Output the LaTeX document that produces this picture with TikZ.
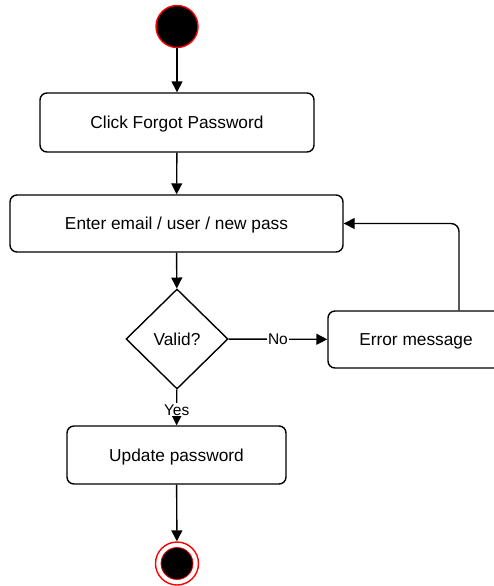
\documentclass[tikz,border=0pt]{standalone}
\usepackage{fontspec}
\setmainfont{Liberation Sans}
\usetikzlibrary{arrows.meta,shapes.geometric}

\tikzset{
  action/.style={draw,rounded corners=7pt,line width=1.4pt,minimum height=58pt,text height=12.4pt,text depth=0pt,font=\fontsize{17.3}{20}\selectfont},
  flow/.style={-{Triangle[length=11pt,width=11pt]},line width=1.4pt},
  guard/.style={fill=white,inner sep=1pt,text height=11pt,text depth=0pt,font=\fontsize{15.5}{18}\selectfont},
}

\begin{document}
\begin{tikzpicture}[x=1pt,y=-1pt]
  \useasboundingbox (0,0) rectangle (494,586);
  \node[draw=red,fill=black,circle,minimum size=42pt,inner sep=0pt,line width=1.4pt] (start) at (177,26.5) {};
  \node[action,minimum width=274pt,minimum height=59pt] (click) at (177,122.5) {Click Forgot Password};
  \node[action,minimum width=333pt,minimum height=57pt] (enter) at (176.5,223.5) {Enter email / user / new pass};
  \node[draw,diamond,line width=1.4pt,minimum width=102pt,minimum height=100pt,inner sep=0pt,text height=12.4pt,text depth=0pt,font=\fontsize{17.3}{20}\selectfont] (valid) at (177,339) {Valid?};
  \node[action,minimum width=176pt,minimum height=57pt] (error) at (416,339.5) {Error message};
  \node[action,minimum width=219pt,minimum height=58pt] (update) at (176.5,455) {Update password};
  \node[draw=red,circle,minimum size=43pt,inner sep=0pt,line width=1.4pt] (end) at (177,563.5) {};
  \node[draw=red,fill=black,circle,minimum size=32pt,inner sep=0pt,line width=0.8pt] (end-dot) at (end.center) {};
  \draw[flow] (start) -- (click);
  \draw[flow] (click) -- (enter);
  \draw[flow] (enter) -- (valid);
  \draw[flow] (valid) -- node[guard] {No} (error);
  \draw[flow] (valid) -- node[guard,pos=0.57] {Yes} (update);
  \draw[flow,rounded corners=8pt] ([xshift=43pt]error.north) |- (enter.east);
  \draw[flow] (update) -- (end);
\end{tikzpicture}
\end{document}
